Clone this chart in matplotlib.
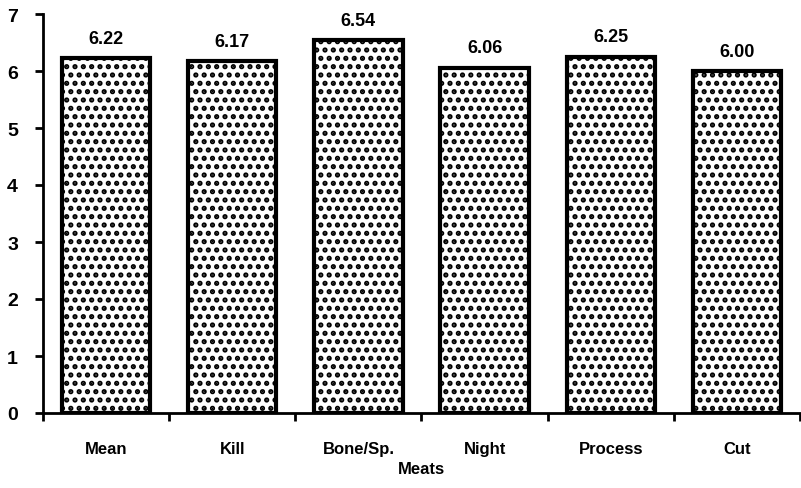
import matplotlib.pyplot as plt
import numpy as np

categories = ['Mean', 'Kill', 'Bone/Sp.', 'Night', 'Process', 'Cut']
values = [6.22, 6.17, 6.54, 6.06, 6.25, 6.00]

plt.rcParams['font.family'] = ['Liberation Sans', 'DejaVu Sans']
plt.rcParams['font.weight'] = 'bold'
plt.rcParams['hatch.linewidth'] = 2.5

fig = plt.figure(figsize=(8.01, 4.89), dpi=100)
ax = fig.add_axes([43/801, 75/489, 757/801, 399/489])

x = np.arange(len(categories))
bars = ax.bar(x, values, width=0.7, color='white', edgecolor='black',
              linewidth=3, hatch='..')

for xi, v in zip(x, values):
    ax.text(xi, v + 0.2, '%.2f' % v, ha='center', va='bottom',
            fontsize=13, fontweight='bold')

ax.set_xlim(-0.5, len(categories) - 0.5)
ax.set_ylim(0, 7)
ax.set_yticks(range(0, 8))
ax.set_yticklabels([str(i) for i in range(0, 8)], fontsize=14, fontweight='bold')

# category names centred under bars, ticks on the boundaries
ax.set_xticks(np.arange(len(categories) + 1) - 0.5)
ax.set_xticklabels([])
ax.set_xticks(x, minor=True)
ax.set_xticklabels(categories, minor=True, fontsize=12, fontweight='bold')
ax.tick_params(axis='x', which='minor', length=0, pad=20)
ax.tick_params(axis='x', which='major', direction='out', length=6, width=2)
ax.tick_params(axis='y', direction='out', length=6, width=2, pad=12)
ax.set_xlabel('Meats', fontsize=12, fontweight='bold', labelpad=4)

for s in ['top', 'right']:
    ax.spines[s].set_visible(False)
for s in ['left', 'bottom']:
    ax.spines[s].set_linewidth(2)

fig.savefig('out.png', dpi=100)
